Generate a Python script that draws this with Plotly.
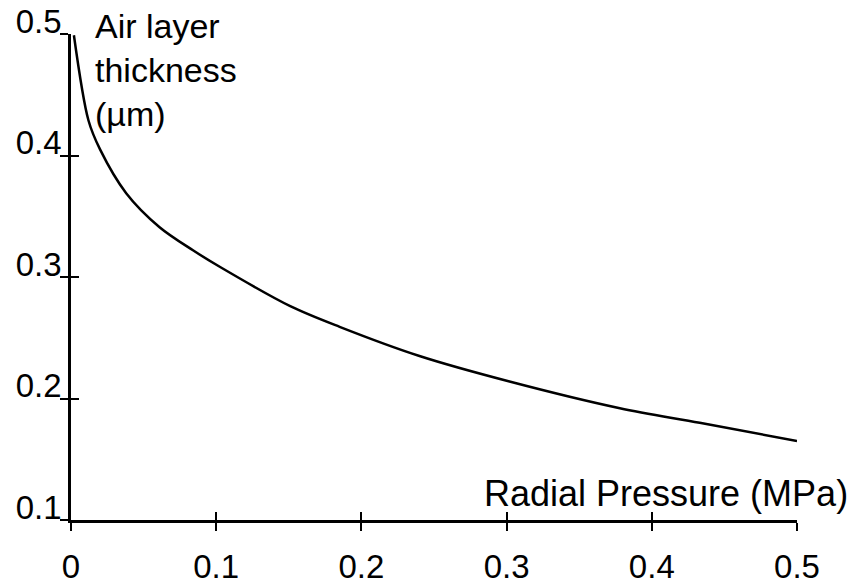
import plotly.graph_objects as go

pressure = [0.002, 0.012, 0.020, 0.038, 0.061, 0.084, 0.103, 0.151, 0.185, 0.240, 0.302, 0.378, 0.433, 0.500]
thickness = [0.499, 0.429, 0.405, 0.369, 0.341, 0.322, 0.308, 0.276, 0.259, 0.235, 0.214, 0.192, 0.180, 0.165]

x_ticks = [0, 0.1, 0.2, 0.3, 0.4, 0.5]
x_labels = ["0", "0.1", "0.2", "0.3", "0.4", "0.5"]
y_ticks = [0.1, 0.2, 0.3, 0.4, 0.5]
y_labels = ["0.1", "0.2", "0.3", "0.4", "0.5"]

FONT = "Liberation Sans, Arial, sans-serif"

fig = go.Figure()
fig.add_trace(go.Scatter(x=pressure, y=thickness, mode="lines",
                         line=dict(color="black", width=2.5, shape="spline", smoothing=0.9),
                         showlegend=False, hoverinfo="skip"))
fig.add_trace(go.Scatter(x=[pressure[-1]], y=[thickness[-1]], xaxis="x2", yaxis="y2",
                         mode="markers", marker=dict(opacity=0), showlegend=False,
                         hoverinfo="skip"))

common = dict(showgrid=False, zeroline=False, tickcolor="black", tickwidth=2,
              ticklen=8, automargin=False)
fig.update_layout(
    width=855, height=588,
    margin=dict(l=71, r=58, t=34, b=68, autoexpand=False),
    paper_bgcolor="white", plot_bgcolor="white",
    font=dict(family=FONT, size=33, color="black"),
    xaxis=dict(range=[0, 0.5], tickvals=x_ticks, ticktext=x_labels, ticks="outside",
               showline=True, linecolor="black", linewidth=2.5, **common,
               ticklabelstandoff=8, ticklabeloverflow="allow"),
    yaxis=dict(range=[0.1, 0.5], tickvals=y_ticks, ticktext=y_labels, ticks="outside",
               showline=True, linecolor="black", linewidth=2.5, **common,
               ticklabelstandoff=-8, ticklabelshift=-13, ticklabeloverflow="allow"),
    xaxis2=dict(range=[0, 0.5], tickvals=x_ticks, ticks="inside", overlaying="x",
                anchor="y", side="bottom", showticklabels=False, showline=False, **common),
    yaxis2=dict(range=[0.1, 0.5], tickvals=y_ticks, ticks="inside", overlaying="y",
                anchor="x", side="left", showticklabels=False, showline=False, **common),
    annotations=[
        dict(text="Air layer<br>thickness<br>(µm)", xref="paper", yref="paper",
             x=0.030, y=1.06, xanchor="left", yanchor="top", align="left",
             showarrow=False, font=dict(size=34)),
        dict(text="Radial Pressure (MPa)", xref="paper", yref="paper",
             x=1.073, y=0.0535, xanchor="right", yanchor="middle",
             showarrow=False, font=dict(size=36)),
    ],
)

fig.write_html("out.html")
